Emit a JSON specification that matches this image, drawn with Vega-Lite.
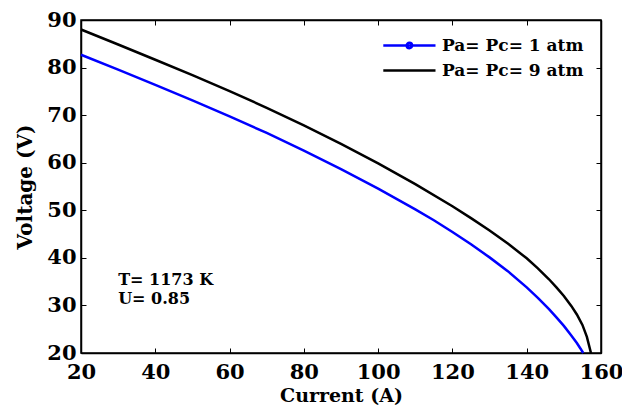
{
  "$schema": "https://vega.github.io/schema/vega-lite/v6.json",
  "width": 520,
  "height": 333,
  "autosize": "none",
  "padding": {"left": 81, "top": 20, "right": 21, "bottom": 63},
  "background": "white",
  "datasets": {
    "curves": [
      {"series": "Pa= Pc= 1 atm", "current": 20, "voltage": 82.7},
      {"series": "Pa= Pc= 1 atm", "current": 30, "voltage": 79.55},
      {"series": "Pa= Pc= 1 atm", "current": 40, "voltage": 76.35},
      {"series": "Pa= Pc= 1 atm", "current": 50, "voltage": 73.1},
      {"series": "Pa= Pc= 1 atm", "current": 60, "voltage": 69.75},
      {"series": "Pa= Pc= 1 atm", "current": 70, "voltage": 66.25},
      {"series": "Pa= Pc= 1 atm", "current": 80, "voltage": 62.55},
      {"series": "Pa= Pc= 1 atm", "current": 90, "voltage": 58.65},
      {"series": "Pa= Pc= 1 atm", "current": 100, "voltage": 54.55},
      {"series": "Pa= Pc= 1 atm", "current": 110, "voltage": 50.2},
      {"series": "Pa= Pc= 1 atm", "current": 115, "voltage": 47.9},
      {"series": "Pa= Pc= 1 atm", "current": 120, "voltage": 45.45},
      {"series": "Pa= Pc= 1 atm", "current": 125, "voltage": 42.85},
      {"series": "Pa= Pc= 1 atm", "current": 130, "voltage": 40.1},
      {"series": "Pa= Pc= 1 atm", "current": 135, "voltage": 37.15},
      {"series": "Pa= Pc= 1 atm", "current": 140, "voltage": 33.8},
      {"series": "Pa= Pc= 1 atm", "current": 143, "voltage": 31.6},
      {"series": "Pa= Pc= 1 atm", "current": 146, "voltage": 29.2},
      {"series": "Pa= Pc= 1 atm", "current": 148, "voltage": 27.5},
      {"series": "Pa= Pc= 1 atm", "current": 150, "voltage": 25.7},
      {"series": "Pa= Pc= 1 atm", "current": 152, "voltage": 23.7},
      {"series": "Pa= Pc= 1 atm", "current": 153.5, "voltage": 22.1},
      {"series": "Pa= Pc= 1 atm", "current": 154.5, "voltage": 20.9},
      {"series": "Pa= Pc= 1 atm", "current": 155.2, "voltage": 20.0},
      {"series": "Pa= Pc= 9 atm", "current": 20, "voltage": 88.0},
      {"series": "Pa= Pc= 9 atm", "current": 30, "voltage": 84.85},
      {"series": "Pa= Pc= 9 atm", "current": 40, "voltage": 81.65},
      {"series": "Pa= Pc= 9 atm", "current": 50, "voltage": 78.4},
      {"series": "Pa= Pc= 9 atm", "current": 60, "voltage": 75.05},
      {"series": "Pa= Pc= 9 atm", "current": 70, "voltage": 71.55},
      {"series": "Pa= Pc= 9 atm", "current": 80, "voltage": 67.85},
      {"series": "Pa= Pc= 9 atm", "current": 90, "voltage": 63.95},
      {"series": "Pa= Pc= 9 atm", "current": 100, "voltage": 59.85},
      {"series": "Pa= Pc= 9 atm", "current": 110, "voltage": 55.5},
      {"series": "Pa= Pc= 9 atm", "current": 120, "voltage": 50.85},
      {"series": "Pa= Pc= 9 atm", "current": 125, "voltage": 48.35},
      {"series": "Pa= Pc= 9 atm", "current": 130, "voltage": 45.75},
      {"series": "Pa= Pc= 9 atm", "current": 135, "voltage": 42.95},
      {"series": "Pa= Pc= 9 atm", "current": 140, "voltage": 39.9},
      {"series": "Pa= Pc= 9 atm", "current": 143, "voltage": 37.8},
      {"series": "Pa= Pc= 9 atm", "current": 146, "voltage": 35.5},
      {"series": "Pa= Pc= 9 atm", "current": 148, "voltage": 33.8},
      {"series": "Pa= Pc= 9 atm", "current": 150, "voltage": 32.0},
      {"series": "Pa= Pc= 9 atm", "current": 152, "voltage": 29.9},
      {"series": "Pa= Pc= 9 atm", "current": 153.5, "voltage": 28.1},
      {"series": "Pa= Pc= 9 atm", "current": 155, "voltage": 25.9},
      {"series": "Pa= Pc= 9 atm", "current": 156.2, "voltage": 23.4},
      {"series": "Pa= Pc= 9 atm", "current": 157.3, "voltage": 20.0}
    ],
    "notes": [
      {"label": "T= 1173 K", "current": 30, "voltage": 35.3},
      {"label": "U= 0.85", "current": 30, "voltage": 31.3}
    ]
  },
  "layer": [
    {
      "data": {"name": "curves"},
      "transform": [{"filter": "datum.series === 'Pa= Pc= 1 atm'"}],
      "mark": {"type": "line", "color": "#0000ff", "strokeWidth": 2.5},
      "encoding": {
        "x": {"field": "current", "type": "quantitative",
              "scale": {"domain": [20, 160], "nice": false, "zero": false},
              "axis": {"title": "Current (A)", "values": [20, 40, 60, 80, 100, 120, 140, 160], "labelFlush": false, "labelPadding": 13, "titlePadding": 4, "titleFontSize": 19}},
        "y": {"field": "voltage", "type": "quantitative",
              "scale": {"domain": [20, 90], "nice": false, "zero": false},
              "axis": {"title": "Voltage (V)", "values": [20, 30, 40, 50, 60, 70, 80, 90], "labelFlush": false, "labelPadding": 10, "titlePadding": 11}}
      }
    },
    {
      "data": {"name": "curves"},
      "transform": [{"filter": "datum.series === 'Pa= Pc= 9 atm'"}],
      "mark": {"type": "line", "color": "#000000", "strokeWidth": 2.5},
      "encoding": {
        "x": {"field": "current", "type": "quantitative", "axis": null},
        "y": {"field": "voltage", "type": "quantitative", "axis": null}
      }
    },
    {
      "data": {"name": "curves"},
      "mark": {"type": "point", "filled": false, "opacity": 0},
      "encoding": {
        "x": {"field": "current", "type": "quantitative",
              "axis": {"orient": "top", "title": null, "labels": false, "values": [20, 40, 60, 80, 100, 120, 140, 160]}},
        "y": {"field": "voltage", "type": "quantitative",
              "axis": {"orient": "right", "title": null, "labels": false, "values": [20, 30, 40, 50, 60, 70, 80, 90]}},
        "color": {"field": "series", "type": "nominal",
                  "scale": {"domain": ["Pa= Pc= 1 atm", "Pa= Pc= 9 atm"], "range": ["#0000ff", "#000000"]},
                  "legend": {"title": null, "orient": "top-right", "offset": 6, "padding": 11, "symbolSize": 144, "symbolStrokeWidth": 2.5, "symbolOpacity": 1, "labelFont": "DejaVu Serif", "labelFontWeight": "bold", "labelFontSize": 17, "labelColor": "black", "rowPadding": 7, "labelOffset": 4}},
        "shape": {"field": "series", "type": "nominal",
                  "scale": {"domain": ["Pa= Pc= 1 atm", "Pa= Pc= 9 atm"], "range": ["M-7.7,0H1M-3.8,0A0.45,0.45 0 1 1 -2.9,0A0.45,0.45 0 1 1 -3.8,0Z", "M-7.7,0H1"]},
                  "legend": {"title": null}}
      }
    },
    {
      "data": {"name": "notes"},
      "mark": {"type": "text", "align": "left", "baseline": "middle", "font": "DejaVu Serif", "fontWeight": "bold", "fontSize": 16, "color": "black"},
      "encoding": {
        "x": {"field": "current", "type": "quantitative", "axis": null},
        "y": {"field": "voltage", "type": "quantitative", "axis": null},
        "text": {"field": "label"}
      }
    }
  ],
  "resolve": {"axis": {"x": "independent", "y": "independent"}},
  "config": {
    "view": {"stroke": "black", "strokeWidth": 1.5},
    "axis": {
      "grid": false,
      "domainColor": "black",
      "domainWidth": 1.5,
      "tickColor": "black",
      "tickWidth": 1,
      "tickSize": -5,
      "labelFont": "DejaVu Serif",
      "labelFontWeight": "bold",
      "labelFontSize": 21,
      "labelColor": "black",
      "titleFont": "DejaVu Serif",
      "titleFontWeight": "bold",
      "titleFontSize": 20,
      "titleColor": "black"
    }
  }
}
